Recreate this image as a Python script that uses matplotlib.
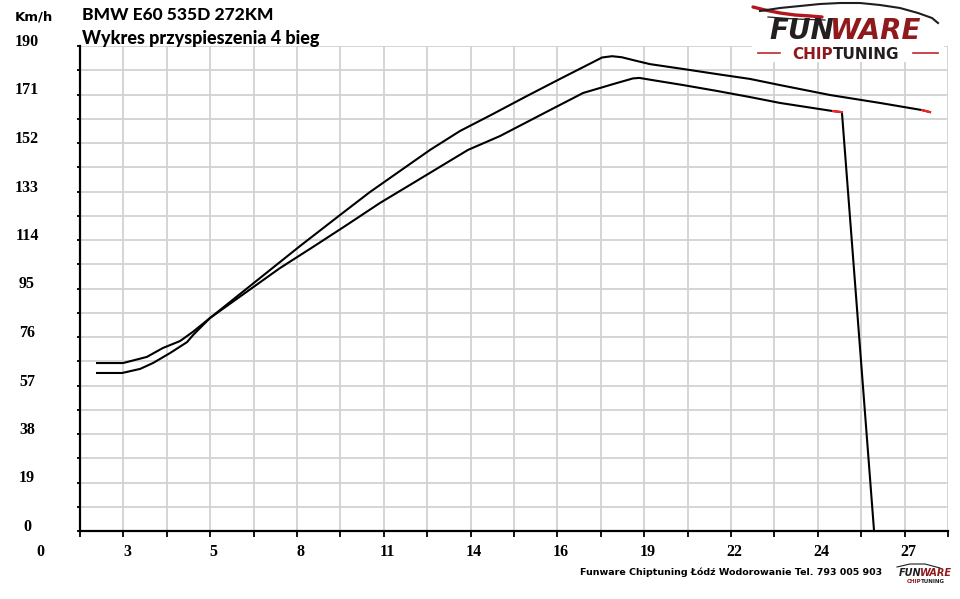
import matplotlib
matplotlib.use("Agg")
import matplotlib.pyplot as plt
from matplotlib.transforms import blended_transform_factory, ScaledTranslation
from matplotlib.patches import Rectangle

# ---------------- data ----------------
title_1 = "BMW E60 535D 272KM"
title_2 = "Wykres przyspieszenia 4 bieg"
y_unit = "Km/h"
footer = "Funware Chiptuning Łódź Wodorowanie Tel. 793 005 903"

time_step = 1.35
x_min, x_max = 1.35, 28.35
x_label_values = [0, 2.7, 5.4, 8.1, 10.8, 13.5, 16.2, 18.9, 21.6, 24.3, 27.0]
x_label_texts = ["0", "3", "5", "8", "11", "14", "16", "19", "22", "24", "27"]
speed_step = 9.5
y_min, y_max = 0, 190
y_label_values = [0, 19, 38, 57, 76, 95, 114, 133, 152, 171, 190]

a_time = [1.88, 2.66, 3.22, 3.62, 4.15, 4.68, 4.87, 5.39, 8.19, 9.44, 10.37,
          12.24, 13.17, 14.20, 15.25, 16.28, 17.31, 17.59, 17.90, 18.20, 18.68,
          19.08, 20.11, 21.16, 22.19, 23.12, 24.68, 26.23, 27.54, 27.79]
a_speed = [61.9, 61.9, 63.5, 65.8, 69.7, 74.0, 76.8, 83.4, 111.6, 123.8, 132.8,
           149.3, 156.7, 163.4, 170.4, 177.1, 183.7, 185.5, 186.0, 185.6, 184.1,
           182.9, 181.0, 179.0, 177.1, 174.7, 170.8, 167.7, 164.9, 164.1]

b_time = [1.88, 2.69, 3.43, 3.93, 4.46, 4.86, 5.39, 7.57, 8.60, 9.65, 10.68,
          11.71, 13.42, 14.41, 15.97, 17.00, 18.05, 18.55, 18.75, 19.08,
          20.11, 21.16, 22.19, 23.12, 24.77, 25.05, 26.05]
b_speed = [65.8, 65.8, 68.2, 71.7, 74.4, 78.0, 83.4, 103.0, 111.3, 119.9, 128.5,
           136.3, 149.3, 154.7, 164.9, 171.6, 175.5, 177.3, 177.5, 176.8,
           174.7, 172.4, 170.0, 167.7, 164.5, 164.1, 0.0]

# ---------------- figure ----------------
W, H = 960, 599
fig = plt.figure(figsize=(W / 100, H / 100), dpi=100, facecolor="white")

ax_left, ax_right, ax_bottom, ax_top = 80, 948, 531, 46
ax = fig.add_axes([ax_left / W, (H - ax_bottom) / H,
                   (ax_right - ax_left) / W, (ax_bottom - ax_top) / H])
ax.set_zorder(1)
ax.set_facecolor("white")
ax.set_xlim(x_min, x_max)
ax.set_ylim(y_min, y_max)

n_x = int(round((x_max - x_min) / time_step))
n_y = int(round((y_max - y_min) / speed_step))
ax.set_xticks([x_min + i * time_step for i in range(n_x + 1)])
ax.set_yticks([y_min + i * speed_step for i in range(n_y + 1)])
ax.set_xticklabels([])
ax.set_yticklabels([])
ax.grid(True, color="#d2d2d2", linewidth=1.3, zorder=0)
ax.set_axisbelow(True)
ax.tick_params(axis="x", direction="out", length=4.3, width=1.3, color="black")
ax.tick_params(axis="y", direction="out", length=2.5, width=1.3, color="black")
for s in ["top", "right"]:
    ax.spines[s].set_visible(False)
for s in ["left", "bottom"]:
    ax.spines[s].set_linewidth(1.6)
    ax.spines[s].set_color("black")

# curves
ax.plot(a_time, a_speed, color="black", lw=1.5, zorder=3, clip_on=False)
ax.plot(a_time[-2:], a_speed[-2:], color="#ff2020", lw=1.5, zorder=4, clip_on=False)
ax.plot(b_time, b_speed, color="black", lw=1.5, zorder=3, clip_on=False)
ax.plot(b_time[-3:-1], b_speed[-3:-1], color="#ff2020", lw=1.5, zorder=4, clip_on=False)

# tick labels
serif_bold = dict(family="Liberation Serif", weight="bold", size=11.5, color="black")
tx = ax.transData + ScaledTranslation(3.5 / 100, -13 / 100, fig.dpi_scale_trans)
for v, t in zip(x_label_values, x_label_texts):
    ax.text(v, 0, t, transform=tx, ha="center", va="top", clip_on=False, **serif_bold)
ty = blended_transform_factory(ax.transAxes, ax.transData) + \
    ScaledTranslation(-53 / 100, 0, fig.dpi_scale_trans)
for v in y_label_values:
    ax.text(0, v, str(v), transform=ty, ha="center", va="baseline",
            clip_on=False, **serif_bold)

# ---------------- decorations (pixel coords) ----------------
deco = fig.add_axes([0, 0, 1, 1], facecolor="none")
deco.set_zorder(5)
deco.set_xlim(0, W)
deco.set_ylim(H, 0)
deco.axis("off")

deco.text(15, 20, y_unit, ha="left", va="baseline", fontsize=9.5,
          family="DejaVu Sans", weight="bold", color="black")
deco.text(82, 20, title_1, ha="left", va="baseline", fontsize=12.5,
          family="Lato", weight=900, color="black")
deco.text(82, 44, title_2, ha="left", va="baseline", fontsize=13,
          family="Lato", weight=900, color="black")

deco.text(580, 575, footer, ha="left", va="baseline", fontsize=6.8,
          family="DejaVu Sans", weight="bold", color="black")

dark_red = "#8f1a1d"
# big logo
deco.add_patch(Rectangle((752, 0), 192, 62, facecolor="white", edgecolor="none"))
deco.plot([753, 765, 780, 795, 810, 822], [7, 10, 13, 15, 16, 17], color="#b3171d",
          lw=2.4, solid_capstyle="round")
deco.plot([760, 780, 800, 820, 840, 860, 880, 900, 918, 932, 938],
          [11, 8, 6, 4, 3, 3, 5, 8, 13, 18, 23], color="#1e1e1e", lw=1.5)
deco.plot([768, 795, 825], [17, 19, 20], color="#1e1e1e", lw=0.9)
deco.text(834, 39, "FUN", ha="right", va="baseline", fontsize=20, family="DejaVu Sans",
          weight="bold", style="oblique", color="#231f20")
deco.text(829, 39, "WARE", ha="left", va="baseline", fontsize=20, family="DejaVu Sans",
          weight="bold", style="oblique", color=dark_red)
deco.text(833, 59, "CHIP", ha="right", va="baseline", fontsize=11, family="DejaVu Sans",
          weight="bold", color=dark_red)
deco.text(833, 59, "TUNING", ha="left", va="baseline", fontsize=11, family="DejaVu Sans",
          weight="bold", color="#231f20")
deco.plot([758, 780], [53, 53], color="#c0262c", lw=1.2)
deco.plot([913, 938], [53, 53], color="#c0262c", lw=1.2)

# small logo
deco.plot([897, 910, 925, 940], [567, 564, 564, 568], color="#1e1e1e", lw=0.8)
deco.text(921, 576, "FUN", ha="right", va="baseline", fontsize=7, family="DejaVu Sans",
          weight="bold", style="oblique", color="#231f20")
deco.text(920, 576, "WARE", ha="left", va="baseline", fontsize=7, family="DejaVu Sans",
          weight="bold", style="oblique", color=dark_red)
deco.text(921, 583, "CHIP", ha="right", va="baseline", fontsize=4, family="DejaVu Sans",
          weight="bold", color=dark_red)
deco.text(921, 583, "TUNING", ha="left", va="baseline", fontsize=4, family="DejaVu Sans",
          weight="bold", color="#231f20")

fig.savefig("out.png", dpi=100, facecolor="white")
